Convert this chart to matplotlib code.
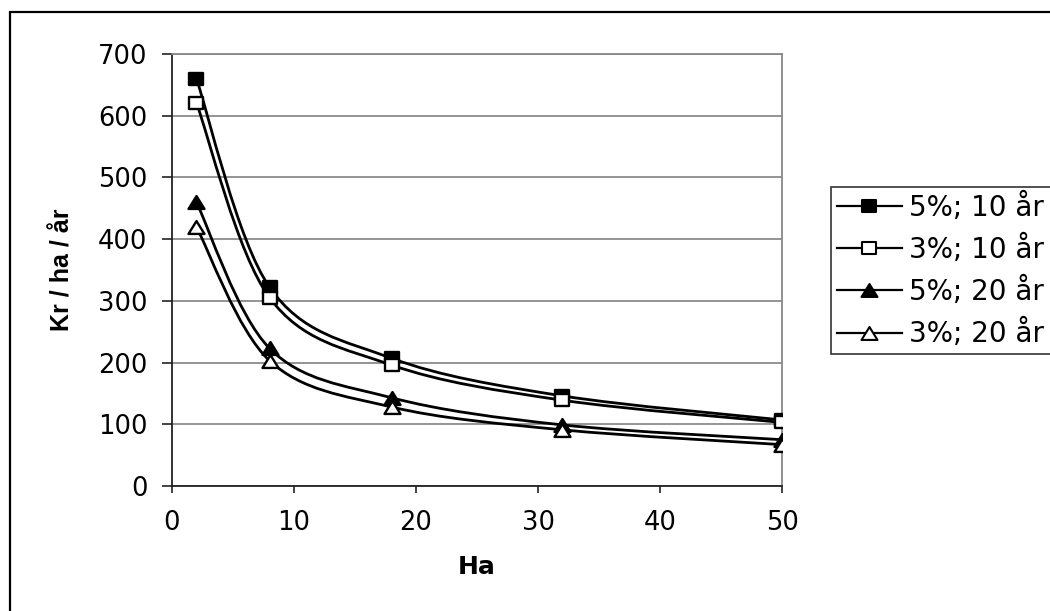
import matplotlib.pyplot as plt
import numpy as np
from matplotlib.path import Path
from matplotlib.patches import PathPatch, Rectangle

plt.rcParams['font.family'] = ['DejaVu Sans']

# Areal (ha) och kostnad (kr / ha / år)
ha = [2, 8, 18, 32, 50]
kr_5_10 = [660, 322, 207, 146, 107]
kr_3_10 = [621, 305, 196, 139, 103]
kr_5_20 = [460, 223, 143, 99, 75]
kr_3_20 = [420, 203, 128, 91, 67]

# något breda markörer (kvadrat och triangel)
kvadrat = Path([(-0.63, -0.5), (0.63, -0.5), (0.63, 0.5), (-0.63, 0.5), (-0.63, -0.5)],
               [Path.MOVETO, Path.LINETO, Path.LINETO, Path.LINETO, Path.CLOSEPOLY])
triangel = Path([(0, 0.5), (-0.62, -0.5), (0.62, -0.5), (0, 0.5)],
                [Path.MOVETO, Path.LINETO, Path.LINETO, Path.CLOSEPOLY])

serier = [
    ('5%; 10 år', kr_5_10, kvadrat, 'black'),
    ('3%; 10 år', kr_3_10, kvadrat, 'white'),
    ('5%; 20 år', kr_5_20, triangel, 'black'),
    ('3%; 20 år', kr_3_20, triangel, 'white'),
]


def mjuk_kurva(x, y):
    # Catmull-Rom som kubiska Bezier-segment (som "utjämnad linje")
    p = np.column_stack([x, y]).astype(float)
    p_ext = np.vstack([p[0], p, p[-1]])
    verts = [p[0]]
    codes = [Path.MOVETO]
    for i in range(1, len(p_ext) - 2):
        p0, p1, p2, p3 = p_ext[i - 1], p_ext[i], p_ext[i + 1], p_ext[i + 2]
        c1 = p1 + (p2 - p0) / 6
        c2 = p2 - (p3 - p1) / 6
        verts += [c1, c2, p2]
        codes += [Path.CURVE4] * 3
    return Path(verts, codes)


fig = plt.figure(figsize=(10.5, 6.11), dpi=100)
ax = fig.add_axes([0.1638, 0.2046, 0.581, 0.707])

for namn, varden, mark, fyll in serier:
    ms = 10.5 if mark is kvadrat else 11.5
    ax.add_patch(PathPatch(mjuk_kurva(ha, varden), facecolor='none',
                           edgecolor='black', linewidth=2.0, zorder=3))
    ax.plot(ha, varden, linestyle='none', marker=mark, markersize=ms,
            markerfacecolor=fyll, markeredgecolor='black', markeredgewidth=1.7, zorder=4)
    # legendpost: linje med markör
    ax.plot([], [], color='black', linewidth=1.6, marker=mark,
            markersize=10.5 if mark is kvadrat else 11.5, markerfacecolor=fyll,
            markeredgecolor='black', markeredgewidth=1.5, label=namn)

ax.set_xlim(0, 50)
ax.set_ylim(0, 700)
ax.set_xticks(range(0, 51, 10))
ax.set_yticks(range(0, 701, 100))
ax.yaxis.grid(True, color='#777777', linewidth=1.1)
ax.set_axisbelow(True)

for s in ['top', 'right']:
    ax.spines[s].set_color('#888888')
    ax.spines[s].set_linewidth(1.3)
for s in ['left', 'bottom']:
    ax.spines[s].set_color('#222222')
    ax.spines[s].set_linewidth(1.3)

ax.tick_params(direction='out', width=1.2, labelsize=18.5, color='#222222')
ax.tick_params(axis='y', length=7.2, pad=10.5)
ax.tick_params(axis='x', length=5, pad=12)

ax.set_xlabel('Ha', fontsize=18, fontweight='bold')
ax.xaxis.set_label_coords(0.5, -0.16)
ax.set_ylabel('Kr / ha / år', fontsize=18, fontweight='bold', family='Liberation Sans')
ax.yaxis.set_label_coords(-0.159, 0.5)

# legendrutan fortsätter förbi bildens högerkant
leg = fig.legend(loc='lower left', bbox_to_anchor=(831 / 1050, (611 - 354) / 611, 0.23, 0),
                 mode='expand', borderaxespad=0, fontsize=20, frameon=True, fancybox=False,
                 handlelength=2.37, handletextpad=0.25, borderpad=0.2,
                 labelspacing=0.47)
leg.get_frame().set_edgecolor('black')
leg.get_frame().set_linewidth(1.2)

# ram runt hela diagramytan
fig.patches.append(Rectangle((10 / 1050, -0.05), 1.1, (611 - 12) / 611 + 0.05,
                             transform=fig.transFigure, fill=False,
                             edgecolor='black', linewidth=1.6, zorder=0))

fig.savefig('out.png', dpi=100)
